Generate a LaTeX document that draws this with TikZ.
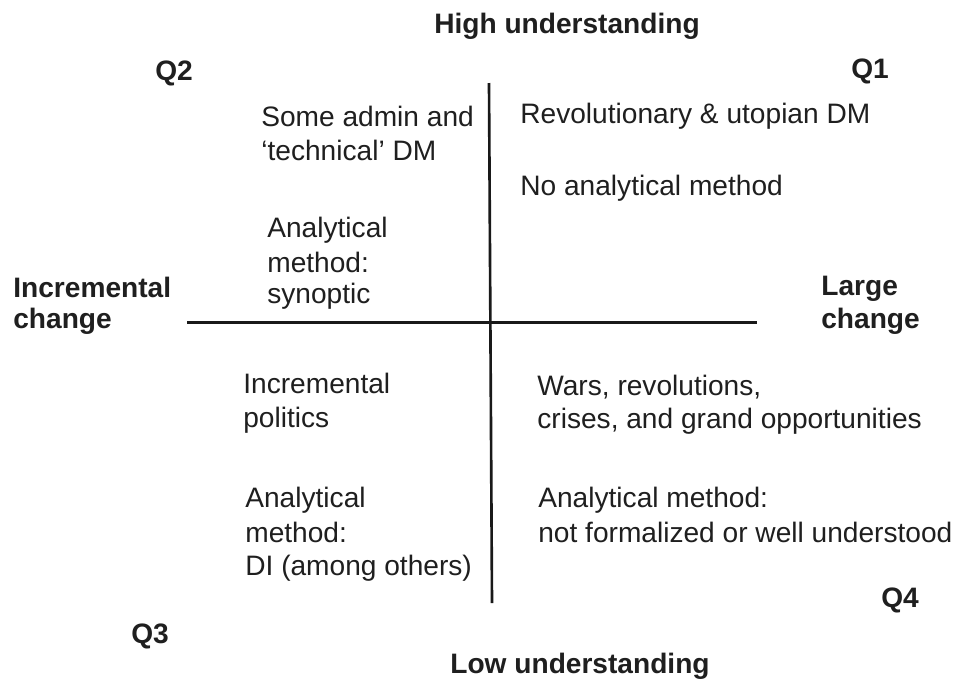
\documentclass[tikz,border=0pt]{standalone}
\usepackage{fontspec}
\setmainfont{Liberation Sans}
\usepackage{tikz}

\begin{document}
\begin{tikzpicture}[x=.02cm,y=-.02cm,
  body/.style={anchor=base west,inner sep=0pt,text=black!88,
    font=\fontsize{16pt}{19.5pt}\selectfont},
  heading/.style={body,font=\fontsize{16pt}{19.5pt}\selectfont\bfseries}]
 \useasboundingbox[fill=white] (0,0) rectangle (953,680);
 % axes
 \coordinate (top) at (489,83);
 \coordinate (bottom) at (492,603);
 \coordinate (left) at (187,322);
 \coordinate (right) at (757,322);
 \draw[black!90,line width=1.5pt] (top) -- (bottom);
 \draw[black!90,line width=1.7pt] (left) -- (right);
 % axis labels
 \node[heading,anchor=base] (high) at (567,33) {High understanding};
 \node[heading,anchor=base] (low) at (580,673) {Low understanding};
 \foreach \x/\y/\txt/\id in
  {13/297/Incremental/incr1,13/328/change/incr2,821/295/Large/large1,821/328/change/large2}{
  \node[heading] (\id) at (\x,\y) {\txt};}
 % quadrant names
 \foreach \x/\y/\txt in
  {851/78/Q1,155/80/Q2,131/643/Q3,881/607/Q4}{
  \node[heading] (\txt) at (\x,\y) {\txt};}
 % quadrant texts
 \foreach \x/\y/\txt/\id in
  {261/126/Some admin and/qa1,261/160/‘technical’ DM/qa2,
   267/237/Analytical/qa3,267/272/method:/qa4,267/303/synoptic/qa5,
   520/123/Revolutionary \& utopian DM/qb1,520/195/No analytical method/qb2,
   243/393/Incremental/qc1,243/427/politics/qc2,
   245/507/Analytical/qc3,245/542/method:/qc4,245/575/DI (among others)/qc5,
   537/395/{Wars, revolutions,}/qd1,537/428/{crises, and grand opportunities}/qd2,
   538/507/Analytical method:/qd3,538/542/not formalized or well understood/qd4}{
  \node[body] (\id) at (\x,\y) {\txt};}
\end{tikzpicture}
\end{document}
